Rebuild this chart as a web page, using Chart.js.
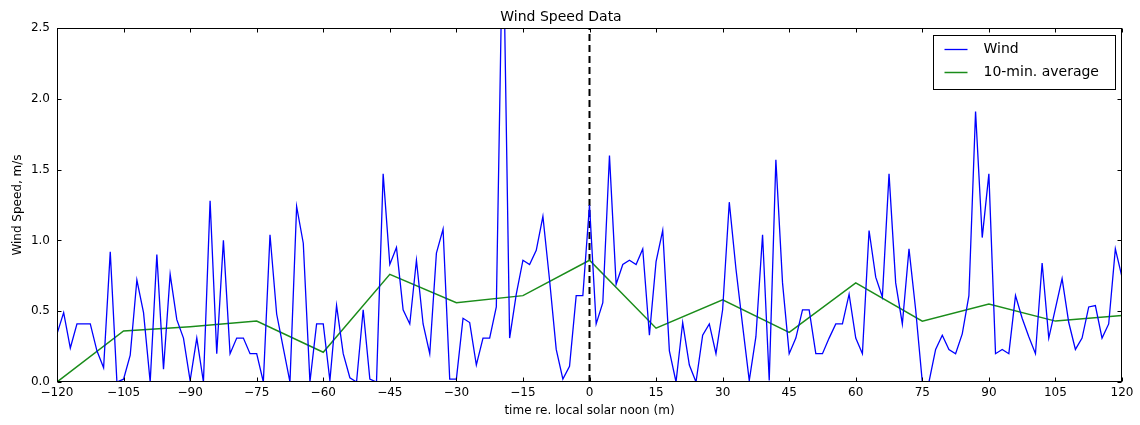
<!DOCTYPE html>
<html>
<head>
<meta charset="utf-8">
<script src="https://cdn.jsdelivr.net/npm/chart.js@4.4.0/dist/chart.umd.min.js"></script>
<style>
  html, body { margin: 0; padding: 0; background: #ffffff; }
  #wrap { width: 1140px; height: 425px; position: relative; }
</style>
</head>
<body>
<div id="wrap"><canvas id="c" width="1140" height="425"></canvas></div>
<script>
// ---- data ----
const chartTitle = 'Wind Speed Data';
const xAxisTitle = 'time re. local solar noon (m)';
const yAxisTitle = 'Wind Speed, m/s';

const windTimes = [
  -120, -118.5, -117, -115.5, -114, -112.5, -111, -109.5, -108, -106.5,
  -105, -103.5, -102, -100.5, -99, -97.5, -96, -94.5, -93, -91.5,
  -90, -88.5, -87, -85.5, -84, -82.5, -81, -79.5, -78, -76.5,
  -75, -73.5, -72, -70.5, -69, -67.5, -66, -64.5, -63, -61.5,
  -60, -58.5, -57, -55.5, -54, -52.5, -51, -49.5, -48, -46.5,
  -45, -43.5, -42, -40.5, -39, -37.5, -36, -34.5, -33, -31.5,
  -30, -28.5, -27, -25.5, -24, -22.5, -21, -19.5, -18, -16.5,
  -15, -13.5, -12, -10.5, -9, -7.5, -6, -4.5, -3, -1.5,
  0, 1.5, 3, 4.5, 6, 7.5, 9, 10.5, 12, 13.5,
  15, 16.5, 18, 19.5, 21, 22.5, 24, 25.5, 27, 28.5,
  30, 31.5, 33, 34.5, 36, 37.5, 39, 40.5, 42, 43.5,
  45, 46.5, 48, 49.5, 51, 52.5, 54, 55.5, 57, 58.5,
  60, 61.5, 63, 64.5, 66, 67.5, 69, 70.5, 72, 73.5,
  75, 76.5, 78, 79.5, 81, 82.5, 84, 85.5, 87, 88.5,
  90, 91.5, 93, 94.5, 96, 97.5, 99, 100.5, 102, 103.5,
  105, 106.5, 108, 109.5, 111, 112.5, 114, 115.5, 117, 118.5,
  120
];
const windSpeed = [
  0.34, 0.49, 0.24, 0.41, 0.41, 0.41, 0.22, 0.10, 0.92, 0.00,
  0.02, 0.19, 0.72, 0.49, 0.00, 0.90, 0.09, 0.76, 0.44, 0.31,
  0.01, 0.31, 0.00, 1.28, 0.20, 1.00, 0.20, 0.31, 0.31, 0.20,
  0.20, 0.00, 1.04, 0.48, 0.24, 0.00, 1.24, 0.98, 0.00, 0.41,
  0.41, 0.01, 0.54, 0.20, 0.03, 0.00, 0.51, 0.02, 0.00, 1.47,
  0.83, 0.95, 0.51, 0.41, 0.86, 0.41, 0.20, 0.91, 1.08, 0.02,
  0.02, 0.45, 0.42, 0.12, 0.31, 0.31, 0.53, 3.30, 0.31, 0.62,
  0.86, 0.83, 0.93, 1.17, 0.72, 0.23, 0.02, 0.11, 0.61, 0.61,
  1.25, 0.41, 0.56, 1.60, 0.69, 0.83, 0.86, 0.83, 0.94, 0.33,
  0.85, 1.07, 0.22, 0.00, 0.42, 0.12, 0.00, 0.33, 0.41, 0.20,
  0.51, 1.27, 0.80, 0.40, 0.01, 0.32, 1.04, 0.01, 1.57, 0.70,
  0.20, 0.31, 0.51, 0.51, 0.20, 0.20, 0.31, 0.41, 0.41, 0.62,
  0.31, 0.20, 1.07, 0.74, 0.60, 1.47, 0.70, 0.41, 0.94, 0.51,
  0.00, 0.00, 0.23, 0.33, 0.23, 0.20, 0.34, 0.61, 1.91, 1.02,
  1.47, 0.20, 0.23, 0.20, 0.61, 0.45, 0.32, 0.20, 0.84, 0.31,
  0.52, 0.73, 0.42, 0.23, 0.31, 0.53, 0.54, 0.31, 0.41, 0.94,
  0.74
];

const avgTimes = [-120, -105, -90, -75, -60, -45, -30, -15, 0, 15, 30, 45, 60, 75, 90, 105, 120];
const avgSpeed = [0.00, 0.36, 0.39, 0.43, 0.21, 0.76, 0.56, 0.61, 0.86, 0.38, 0.58, 0.35, 0.70, 0.43, 0.55, 0.43, 0.47];

const noonTimes = [0, 0];
const noonLevels = [0, 2.5];

const xTickValues = [-120, -105, -90, -75, -60, -45, -30, -15, 0, 15, 30, 45, 60, 75, 90, 105, 120];
const yTickValues = [0, 0.5, 1.0, 1.5, 2.0, 2.5];

const seriesLabels = ['Wind', '10-min. average'];

// ---- chart ----
Chart.defaults.font.family = '"DejaVu Sans", sans-serif';
Chart.defaults.color = '#000000';

const FONT = '"DejaVu Sans", sans-serif';

const framePlugin = {
  id: 'frame',
  afterDatasetsDraw(chart) {
    const ctx = chart.ctx;
    const a = chart.chartArea;
    const xs = chart.scales.x, ys = chart.scales.y;
    ctx.save();
    ctx.strokeStyle = '#000000';
    ctx.lineWidth = 1;
    const L = Math.round(a.left) + 0.5, R = Math.round(a.right) - 0.5;
    const T = Math.round(a.top) + 0.5, B = Math.round(a.bottom) - 0.5;
    ctx.beginPath();
    xTickValues.forEach(v => {
      const px = Math.round(xs.getPixelForValue(v)) + 0.5;
      ctx.moveTo(px, B); ctx.lineTo(px, B - 4);
      ctx.moveTo(px, T); ctx.lineTo(px, T + 4);
    });
    yTickValues.forEach(v => {
      const py = Math.round(ys.getPixelForValue(v)) + 0.5;
      ctx.moveTo(L, py); ctx.lineTo(L + 4, py);
      ctx.moveTo(R, py); ctx.lineTo(R - 4, py);
    });
    ctx.stroke();
    ctx.strokeRect(L, T, R - L, B - T);

    // legend box (inside top right)
    const bw = 182, bh = 54;
    const bx = Math.round(a.right) - 7 - bw + 0.5;
    const by = Math.round(a.top) + 7 + 0.5;
    ctx.fillStyle = '#ffffff';
    ctx.fillRect(bx, by, bw, bh);
    ctx.strokeStyle = '#000000';
    ctx.lineWidth = 1;
    ctx.strokeRect(bx, by, bw, bh);
    ctx.font = '14px ' + FONT;
    ctx.textBaseline = 'middle';
    ctx.textAlign = 'left';
    const items = chart.data.datasets.filter(d => seriesLabels.includes(d.label));
    items.forEach((d, i) => {
      const y = by + 14 + i * 23;
      ctx.strokeStyle = d.borderColor;
      ctx.lineWidth = d.borderWidth;
      ctx.beginPath();
      ctx.moveTo(bx + 11, y); ctx.lineTo(bx + 34, y);
      ctx.stroke();
      ctx.fillStyle = '#000000';
      ctx.fillText(d.label, bx + 50, y);
    });
    ctx.restore();
  }
};

new Chart(document.getElementById('c'), {
  type: 'line',
  data: {
    datasets: [
      {
        label: seriesLabels[0],
        data: windTimes.map((t, i) => ({ x: t, y: windSpeed[i] })),
        borderColor: '#0000ff',
        borderWidth: 1.3,
        pointRadius: 0,
        tension: 0,
        fill: false
      },
      {
        label: seriesLabels[1],
        data: avgTimes.map((t, i) => ({ x: t, y: avgSpeed[i] })),
        borderColor: '#1a8c1a',
        borderWidth: 1.5,
        pointRadius: 0,
        tension: 0,
        fill: false
      },
      {
        label: 'noon',
        data: noonTimes.map((t, i) => ({ x: t, y: noonLevels[i] })),
        borderColor: '#000000',
        borderWidth: 2,
        borderDash: [7, 4],
        pointRadius: 0,
        fill: false
      }
    ]
  },
  options: {
    responsive: false,
    animation: false,
    layout: { padding: { left: 0, right: 18, top: 0, bottom: 0 } },
    plugins: {
      legend: { display: false },
      tooltip: { enabled: false },
      title: {
        display: true,
        text: chartTitle,
        color: '#000000',
        font: { family: FONT, size: 14, weight: 'normal' },
        padding: { top: 9, bottom: 2.2 }
      }
    },
    scales: {
      x: {
        type: 'linear',
        min: -120,
        max: 120,
        grid: { display: false, drawTicks: false },
        border: { display: false },
        afterBuildTicks: (s) => { s.ticks = xTickValues.map(v => ({ value: v })); },
        afterFit: (s) => { s.height = 43; },
        ticks: {
          autoSkip: false,
          maxRotation: 0,
          padding: 4,
          color: '#000000',
          font: { family: FONT, size: 12 },
          callback: (v) => (v < 0 ? '\u2212' + Math.abs(v) : String(v))
        },
        title: {
          display: true,
          text: xAxisTitle,
          color: '#000000',
          font: { family: FONT, size: 12 },
          padding: { top: 0, bottom: 7 }
        }
      },
      y: {
        type: 'linear',
        min: 0,
        max: 2.5,
        grid: { display: false, drawTicks: false },
        border: { display: false },
        afterBuildTicks: (s) => { s.ticks = yTickValues.map(v => ({ value: v })); },
        afterFit: (s) => { s.width = 57; },
        ticks: {
          padding: 7,
          color: '#000000',
          font: { family: FONT, size: 12 },
          callback: (v) => Number(v).toFixed(1)
        },
        title: {
          display: true,
          text: yAxisTitle,
          color: '#000000',
          font: { family: FONT, size: 12 },
          padding: { top: 11, bottom: 0 }
        }
      }
    }
  },
  plugins: [framePlugin]
});
</script>
</body>
</html>
